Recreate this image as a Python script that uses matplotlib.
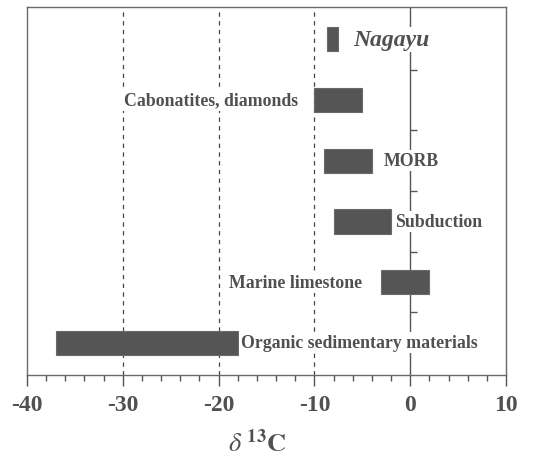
import numpy as np
import matplotlib
matplotlib.use("Agg")
import matplotlib.pyplot as plt

plt.rcParams['font.family'] = ['Liberation Serif', 'DejaVu Serif']
plt.rcParams['mathtext.fontset'] = 'stix'
plt.rcParams['axes.unicode_minus'] = False

# delta 13C ranges for each carbon source (top to bottom)
sources = ['Nagayu', 'Cabonatites, diamonds', 'MORB', 'Subduction',
           'Marine limestone', 'Organic sedimentary materials']
low = [-8.7, -10.0, -9.0, -8.0, -3.0, -37.0]
high = [-7.5, -5.0, -4.0, -2.0, 2.0, -18.0]

# label anchor (x) and side of each label
label_x = [-6.0, -11.7, -2.8, -1.6, -5.0, -17.7]
label_ha = ['left', 'right', 'left', 'left', 'right', 'left']

grey = '#555555'
ink = '#505050'

fig = plt.figure(figsize=(5.57, 4.56), dpi=100)
ax = fig.add_axes([0.0485, 0.1754, 0.86, 0.807])

y = np.arange(len(sources))
widths = np.array(high) - np.array(low)
ax.barh(y, widths, left=low, height=0.4, color=grey, edgecolor='#6a6a6a',
        linewidth=0.8, zorder=2)

# dashed reference lines and the solid zero line with its little ticks
for v in [-30, -20, -10]:
    ax.axvline(v, color='#444444', lw=0.9, ls=(0, (3.5, 3.5)), zorder=0.5)
ax.axvline(0, color='#555555', lw=1.0, zorder=0.5)
ax.hlines(y[:-1] + 0.5, 0, 0.75, color='#555555', lw=1.0, zorder=0.5)

for i, name in enumerate(sources):
    style = 'italic' if name == 'Nagayu' else 'normal'
    size = 17 if name == 'Nagayu' else 12.8
    ax.text(label_x[i], y[i], name, ha=label_ha[i], va='center',
            fontsize=size, fontweight='bold', style=style, color=ink,
            bbox=dict(facecolor='white', edgecolor='none', pad=1.5), zorder=3)

ax.set_xlim(-40, 10)
ax.set_ylim(5.53, -0.53)
ax.set_xticks(np.arange(-40, 11, 10))
ax.set_xticks(np.arange(-40, 11, 2), minor=True)
ax.set_yticks([])
ax.tick_params(axis='x', which='major', length=8, width=1, color='#555555',
               labelsize=17, labelcolor=ink, pad=6)
ax.tick_params(axis='x', which='minor', length=4, width=1, color='#555555')
for lab in ax.get_xticklabels():
    lab.set_fontweight('bold')
for s in ax.spines.values():
    s.set_color('#6a6a6a')
    s.set_linewidth(1.0)

ax.set_xlabel(r'$\delta\ ^{\mathbf{13}}\mathbf{C}$', fontsize=19, color=ink)
ax.xaxis.set_label_coords(0.48, -0.145)

fig.savefig('out.png', dpi=100)
